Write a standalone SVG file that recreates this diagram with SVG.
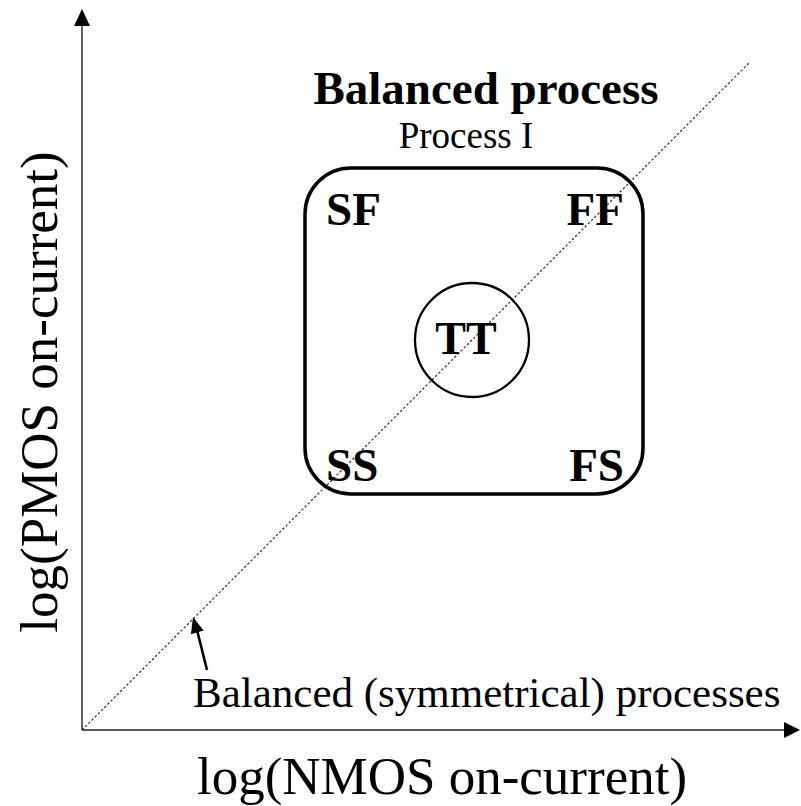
<svg xmlns="http://www.w3.org/2000/svg" width="801" height="806" viewBox="0 0 801 806">
  <defs>
    <style>
      .axis { stroke: #222; stroke-width: 1.4; fill: none; }
      .diag { stroke: #333; stroke-width: 1.2; stroke-dasharray: 2.5 2; fill: none; }
      .box { stroke: #000; stroke-width: 3.5; fill: none; }
      .ring { stroke: #000; stroke-width: 2.3; fill: none; }
      .ptr { stroke: #000; stroke-width: 2.6; fill: none; }
      .serif { font-family: "Liberation Serif", "Times New Roman", serif; fill: #000; }
      .corner { font-size: 47px; font-weight: bold; }
      .axislabel { font-size: 53px; }
    </style>
  </defs>

  <rect width="801" height="806" fill="#fff"/>

  <!-- axes -->
  <g id="axes">
    <line class="axis" x1="82" y1="730" x2="82" y2="22"/>
    <polygon points="82,9 74,26 90,26" fill="#000"/>
    <line class="axis" x1="82" y1="730" x2="788" y2="730"/>
    <polygon points="800,730 784,722 784,738" fill="#000"/>
  </g>

  <!-- balanced-process diagonal and its pointer -->
  <g id="connectors">
    <line class="diag" x1="82" y1="730" x2="750" y2="62"/>
    <line class="ptr" x1="207" y1="670" x2="197.5" y2="632"/>
    <polygon points="193,617 203.6,630.6 190.9,634.2" fill="#000"/>
  </g>

  <g id="title" class="serif">
    <text x="486" y="104" text-anchor="middle" font-size="47" font-weight="bold">Balanced process</text>
    <text x="466" y="148" text-anchor="middle" font-size="37">Process I</text>
  </g>

  <g id="corners">
    <rect class="box" x="305" y="168" width="338" height="326" rx="46" ry="46"/>
    <g id="sf"><text class="serif corner" x="326" y="225">SF</text></g>
    <g id="ff"><text class="serif corner" x="624" y="225" text-anchor="end">FF</text></g>
    <g id="ss"><text class="serif corner" x="326" y="481">SS</text></g>
    <g id="fs"><text class="serif corner" x="624" y="481" text-anchor="end">FS</text></g>
  </g>

  <g id="tt">
    <circle class="ring" cx="472" cy="340" r="57"/>
    <text class="serif" x="466" y="354" text-anchor="middle" font-size="46" font-weight="bold">TT</text>
  </g>

  <g id="balanced-label">
    <text class="serif" x="193" y="707" font-size="43">Balanced (symmetrical) processes</text>
  </g>

  <g id="labels">
    <text class="serif axislabel" x="442" y="794" text-anchor="middle">log(NMOS on-current)</text>
    <text class="serif axislabel" transform="translate(57,392) rotate(-90)" text-anchor="middle">log(PMOS on-current)</text>
  </g>
</svg>
